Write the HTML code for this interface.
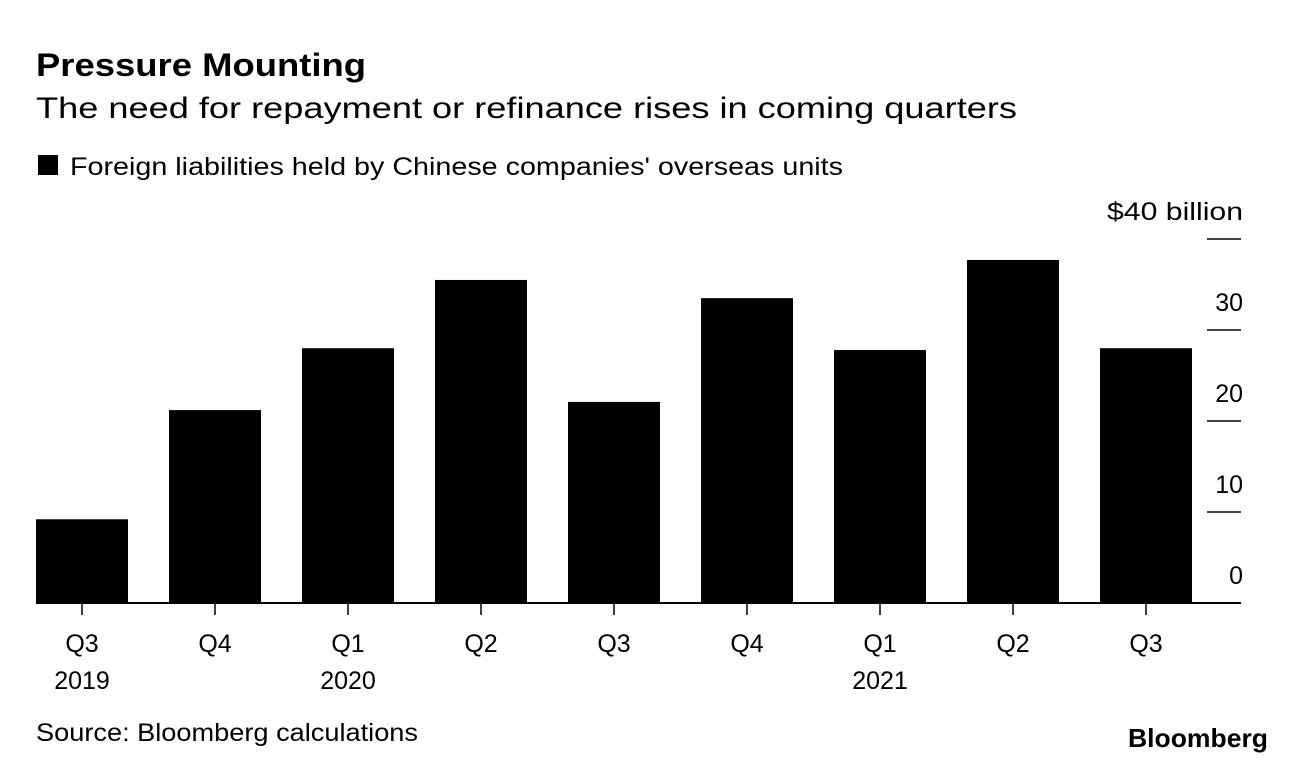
<!DOCTYPE html>
<html><head><meta charset="utf-8"><style>
body{margin:0;background:#fff;width:1296px;height:762px;overflow:hidden;font-family:"Liberation Sans",Arial,sans-serif;color:#000}
</style></head><body>
<svg width="1296" height="762">
<text x="36" y="76" font-size="32" font-weight="bold" textLength="330" lengthAdjust="spacingAndGlyphs" font-family="Liberation Sans, sans-serif">Pressure Mounting</text>
<text x="36" y="118" font-size="30" textLength="981" lengthAdjust="spacingAndGlyphs" font-family="Liberation Sans, sans-serif">The need for repayment or refinance rises in coming quarters</text>
<rect x="38" y="155" width="20" height="20" fill="#000"/>
<text x="70" y="175" font-size="25" textLength="773" lengthAdjust="spacingAndGlyphs" font-family="Liberation Sans, sans-serif">Foreign liabilities held by Chinese companies' overseas units</text>
<g id="grid"></g><g id="bars"></g><g id="xaxis"></g>
<text x="36" y="741" font-size="25" textLength="382" lengthAdjust="spacingAndGlyphs" font-family="Liberation Sans, sans-serif">Source: Bloomberg calculations</text>
<text x="1128" y="747" font-size="26" font-weight="bold" textLength="140" lengthAdjust="spacingAndGlyphs" font-family="Liberation Sans, sans-serif">Bloomberg</text>
</svg>
<script>
const quarters=["Q3","Q4","Q1","Q2","Q3","Q4","Q1","Q2","Q3"];
const years=["2019","","2020","","","","2021","",""];
const values=[9.2,21.2,28.0,35.5,22.1,33.5,27.8,37.7,28.0];
const ticks=[0,10,20,30,40];
const tickLabels=["0","10","20","30","$40 billion"];
const NS="http://www.w3.org/2000/svg";
const y=v=>603-v*9.1;
const x0=36,step=133,bw=92;
const xc=i=>x0+bw/2+i*step;
function mk(t,a,p){const e=document.createElementNS(NS,t);for(const k in a)e.setAttribute(k,a[k]);p.appendChild(e);return e;}
const g=document.getElementById('grid'),b=document.getElementById('bars'),xa=document.getElementById('xaxis');
ticks.forEach((t,i)=>{
 if(t>0){const l=mk('line',{x1:1207,x2:1241,y1:y(t),y2:y(t),stroke:'#000','stroke-width':1.5},g);
 
 }
 const attrs={x:1243,y:y(t)-19,'font-size':25,'text-anchor':'end','font-family':'Liberation Sans, sans-serif'};
 if(t===40){attrs.textLength=136;attrs.lengthAdjust='spacingAndGlyphs';}
 const tx=mk('text',attrs,g);
 tx.textContent=tickLabels[i];
 
 
});
values.forEach((v,i)=>{
 const r=mk('rect',{x:xc(i)-bw/2,y:y(v),width:bw,height:y(0)-y(v),fill:'#000'},b);
 
 
 const tk=mk('line',{x1:xc(i),x2:xc(i),y1:603,y2:615,stroke:'#000','stroke-width':1.5},xa);
 
 
 const q=mk('text',{x:xc(i),y:652,'font-size':25,'text-anchor':'middle','font-family':'Liberation Sans, sans-serif'},xa);
 q.textContent=quarters[i];
 
 
 if(years[i]){const yy=mk('text',{x:xc(i),y:689,'font-size':25,'text-anchor':'middle','font-family':'Liberation Sans, sans-serif'},xa);
 yy.textContent=years[i];
 
 }
});
const base=mk('line',{x1:36,x2:1241,y1:603,y2:603,stroke:'#000','stroke-width':2},xa);


</script>
</body></html>
